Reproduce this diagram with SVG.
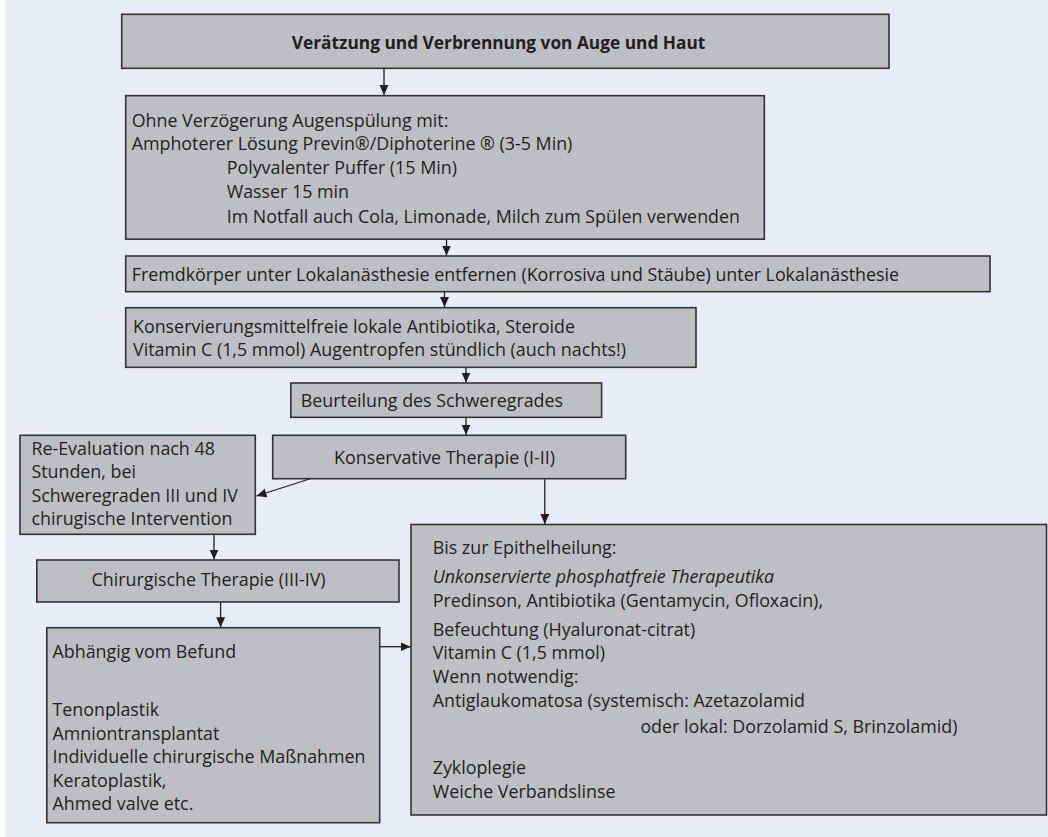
<svg xmlns="http://www.w3.org/2000/svg" width="1048" height="837" viewBox="0 0 1048 837">
<style>
.box{fill:#bebfc2;stroke:#333;stroke-width:1.6}
.t{font-family:"Open Sans","Noto Sans","Liberation Sans",sans-serif;font-size:17.85px;fill:#231f20}
.b{font-weight:bold;font-size:17.3px}
.i{font-style:italic}
.c{text-anchor:middle}
.con{stroke:#231f20;stroke-width:1.3;fill:none;marker-end:url(#ah)}
</style>
<defs>
<marker id="ah" markerUnits="userSpaceOnUse" markerWidth="11" markerHeight="10" refX="10" refY="4.5" orient="auto">
<path d="M0,0 L10,4.5 L0,9 Z" fill="#231f20"/>
</marker>
</defs>
<rect x="5" y="0" width="1043" height="837" fill="#e6edf7"/>
<g id="connectors">
<line class="con" x1="384" y1="68" x2="384" y2="95"/>
<line class="con" x1="446.5" y1="239" x2="446.5" y2="255.5"/>
<line class="con" x1="444.5" y1="292" x2="444.5" y2="307"/>
<line class="con" x1="466" y1="367.3" x2="466" y2="382.5"/>
<line class="con" x1="466" y1="417.3" x2="466" y2="434.8"/>
<line class="con" x1="311" y1="478.5" x2="256.5" y2="496"/>
<line class="con" x1="544.8" y1="478.7" x2="544.8" y2="524"/>
<line class="con" x1="214" y1="534.3" x2="214" y2="559.5"/>
<line class="con" x1="220.6" y1="602" x2="220.6" y2="627.2"/>
<line class="con" x1="379.7" y1="646.7" x2="410.5" y2="646.7"/>
</g>
<g id="n-title">
<rect class="box" x="121.7" y="14.3" width="767.3" height="54"/>
<text class="t b c" x="498.6" y="49">Verätzung und Verbrennung von Auge und Haut</text>
</g>
<g id="n-spuelung">
<rect class="box" x="125.7" y="95.7" width="638.6" height="143.5"/>
<text class="t" x="131.7" y="126.5">Ohne Verzögerung Augenspülung mit:</text>
<text class="t" x="131.7" y="150.3">Amphoterer Lösung Previn®/Diphoterine ® (3-5 Min)</text>
<text class="t" x="226.7" y="174.2">Polyvalenter Puffer (15 Min)</text>
<text class="t" x="226.7" y="198.3">Wasser 15 min</text>
<text class="t" x="226.7" y="222.5">Im Notfall auch Cola, Limonade, Milch zum Spülen verwenden</text>
</g>
<g id="n-fremdkoerper">
<rect class="box" x="125.7" y="256" width="864.3" height="35.7"/>
<text class="t" x="131.7" y="280.5">Fremdkörper unter Lokalanästhesie entfernen (Korrosiva und Stäube) unter Lokalanästhesie</text>
</g>
<g id="n-antibiotika">
<rect class="box" x="125.7" y="307.7" width="570.3" height="59.6"/>
<text class="t" x="133" y="333">Konservierungsmittelfreie lokale Antibiotika, Steroide</text>
<text class="t" x="133" y="356">Vitamin C (1,5 mmol) Augentropfen stündlich (auch nachts!)</text>
</g>
<g id="n-beurteilung">
<rect class="box" x="290.8" y="383" width="310.8" height="34.3"/>
<text class="t" x="300.8" y="407">Beurteilung des Schweregrades</text>
</g>
<g id="n-konservativ">
<rect class="box" x="272.7" y="435.3" width="353" height="43.4"/>
<text class="t c" x="444.6" y="464">Konservative Therapie (I-II)</text>
</g>
<g id="n-reevaluation">
<rect class="box" x="20" y="435.3" width="235.3" height="99"/>
<text class="t" x="31.4" y="454.5">Re-Evaluation nach 48</text>
<text class="t" x="31.4" y="478">Stunden, bei</text>
<text class="t" x="31.4" y="501.5">Schweregraden III und IV</text>
<text class="t" x="31.4" y="525">chirugische Intervention</text>
</g>
<g id="n-chirurgisch">
<rect class="box" x="36.8" y="560" width="362.2" height="42"/>
<text class="t c" x="208.6" y="586">Chirurgische Therapie (III-IV)</text>
</g>
<g id="n-befund">
<rect class="box" x="46.8" y="627.7" width="332.9" height="195"/>
<text class="t" x="52.5" y="658">Abhängig vom Befund</text>
<text class="t" x="52.5" y="716">Tenonplastik</text>
<text class="t" x="52.5" y="739.6">Amniontransplantat</text>
<text class="t" x="52.5" y="763.2">Individuelle chirurgische Maßnahmen</text>
<text class="t" x="52.5" y="786.8">Keratoplastik,</text>
<text class="t" x="52.5" y="810.4">Ahmed valve etc.</text>
</g>
<g id="n-epithel">
<rect class="box" x="411" y="524.5" width="635.5" height="290.5"/>
<text class="t" x="432.7" y="554.3">Bis zur Epithelheilung:</text>
<text class="t i" x="432.7" y="583.3">Unkonservierte phosphatfreie Therapeutika</text>
<text class="t" x="432.7" y="607.3">Predinson, Antibiotika (Gentamycin, Ofloxacin),</text>
<text class="t" x="432.7" y="635.7">Befeuchtung (Hyaluronat-citrat)</text>
<text class="t" x="432.7" y="659">Vitamin C (1,5 mmol)</text>
<text class="t" x="432.7" y="683.3">Wenn notwendig:</text>
<text class="t" x="432.7" y="707.3">Antiglaukomatosa (systemisch: Azetazolamid</text>
<text class="t" x="640.4" y="732.5">oder lokal: Dorzolamid S, Brinzolamid)</text>
<text class="t" x="432.7" y="774.3">Zykloplegie</text>
<text class="t" x="432.7" y="798.3">Weiche Verbandslinse</text>
</g>
</svg>
